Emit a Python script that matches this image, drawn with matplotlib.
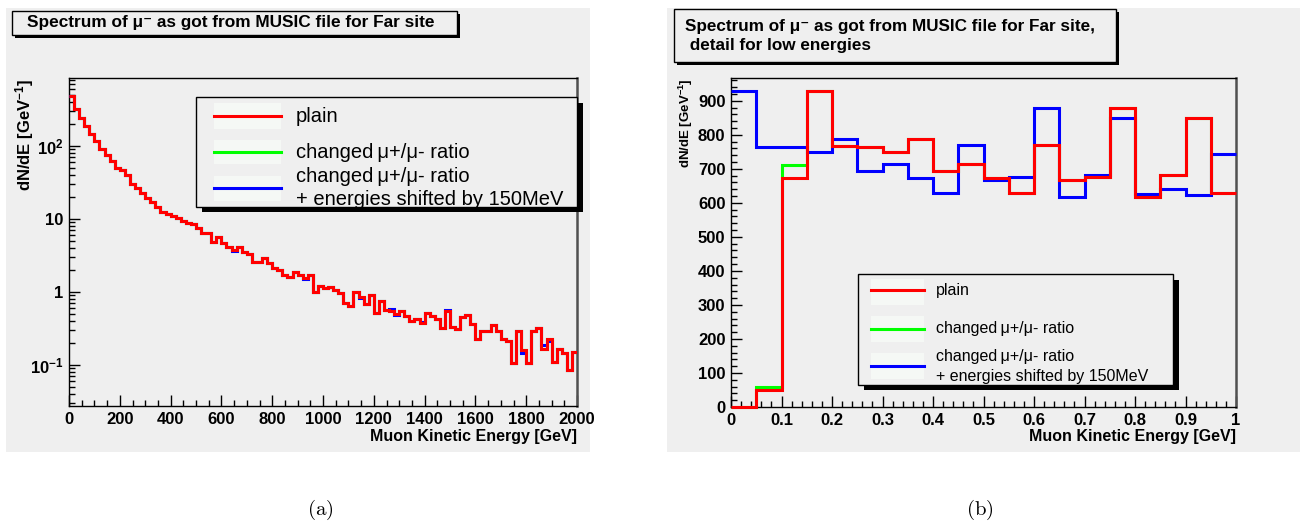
import numpy as np
import matplotlib
matplotlib.use("Agg")
import matplotlib.pyplot as plt
from matplotlib.patches import Rectangle
from matplotlib.lines import Line2D
from matplotlib.ticker import FixedLocator, MultipleLocator, LogLocator, NullFormatter

plt.rcParams.update({"font.family": ["Liberation Sans", "DejaVu Sans"],
                     "mathtext.fontset": "custom",
                     "mathtext.rm": "Liberation Sans",
                     "mathtext.bf": "Liberation Sans:bold",
                     "mathtext.it": "Liberation Sans:italic"})

# ---------- data ----------
# (a) full spectrum, 20 GeV bins 0..2000 GeV
far_bin_width = 20
plain_far = [480, 326, 243, 187, 148, 116, 92, 74.5, 61.7, 50,
             46.4, 39.6, 30.5, 26.6, 22.7, 19.4, 17.1, 14.6, 12.4, 11.7,
             11.1, 10.3, 9.3, 8.9, 8.5, 7.6, 6.4, 6.4, 4.9, 5.6,
             4.67, 4.1, 3.78, 4.1, 3.58, 3.33, 2.61, 2.61, 2.96, 2.53,
             2.12, 2.0, 1.71, 1.59, 1.86, 1.71, 1.54, 1.71, 1.01, 1.2,
             1.15, 1.18, 1.06, 0.96, 0.71, 0.65, 1.01, 0.85, 0.68, 0.90,
             0.51, 0.76, 0.57, 0.555, 0.50, 0.55, 0.47, 0.40, 0.43, 0.372,
             0.51, 0.47, 0.42, 0.32, 0.554, 0.33, 0.31, 0.45, 0.49, 0.36,
             0.226, 0.29, 0.29, 0.35, 0.29, 0.226, 0.213, 0.107, 0.29, 0.16,
             0.107, 0.29, 0.317, 0.165, 0.226, 0.11, 0.168, 0.144, 0.085, 0.149]
shifted_far = [480, 326, 243, 187, 148, 116, 92, 74.5, 61.7, 50,
               46.4, 39.6, 30.5, 26.6, 22.7, 19.4, 17.1, 14.6, 12.4, 11.7,
               11.1, 10.3, 9.3, 8.9, 8.5, 7.6, 6.4, 6.4, 4.8, 5.6,
               4.67, 4.1, 3.7, 4.1, 3.5, 3.33, 2.61, 2.61, 2.96, 2.53,
               2.12, 2.0, 1.71, 1.59, 1.86, 1.71, 1.5, 1.71, 1.01, 1.2,
               1.15, 1.18, 1.06, 0.98, 0.70, 0.65, 1.01, 0.82, 0.68, 0.90,
               0.51, 0.76, 0.57, 0.585, 0.483, 0.55, 0.47, 0.40, 0.43, 0.39,
               0.51, 0.47, 0.42, 0.32, 0.57, 0.335, 0.31, 0.45, 0.49, 0.36,
               0.226, 0.29, 0.29, 0.35, 0.29, 0.226, 0.213, 0.107, 0.295, 0.145,
               0.107, 0.29, 0.317, 0.187, 0.214, 0.11, 0.168, 0.144, 0.085, 0.149]
changed_far = list(plain_far)  # green sits exactly under the red here

# (b) low-energy detail, 0.05 GeV bins 0..1 GeV
low_bin_width = 0.05
plain_low = [0, 50, 672, 928, 767, 765, 750, 788, 695, 713,
             672, 628, 770, 668, 677, 880, 617, 683, 848, 628]
changed_low = [0, 58, 710, 928, 767, 765, 750, 788, 695, 713,
               672, 628, 770, 668, 677, 880, 617, 683, 848, 628]
shifted_low = [928, 765, 765, 750, 787, 695, 713, 673, 628, 770,
               668, 677, 880, 617, 683, 848, 627, 640, 622, 743]

far_xticks = [0, 200, 400, 600, 800, 1000, 1200, 1400, 1600, 1800, 2000]
far_yticks = [0.1, 1, 10, 100]
far_ylabels = [r"$\mathbf{10^{-1}}$", "1", "10", r"$\mathbf{10^{2}}$"]
low_xticks = [0, 0.1, 0.2, 0.3, 0.4, 0.5, 0.6, 0.7, 0.8, 0.9, 1]
low_xlabels = ["0", "0.1", "0.2", "0.3", "0.4", "0.5", "0.6", "0.7", "0.8", "0.9", "1"]
low_yticks = [0, 100, 200, 300, 400, 500, 600, 700, 800, 900]

entries = ["plain", "changed\u2009\u03bc+/\u03bc- ratio",
           "changed\u2009\u03bc+/\u03bc- ratio\n+ energies shifted by 150MeV"]
colors = ["#ff0000", "#00ff00", "#0000ff"]

W, H = 1307, 523
BG = "#efefef"


def fbox(x0, y0, x1, y1):
    return [x0 / W, 1 - y1 / H, (x1 - x0) / W, (y1 - y0) / H]


def rect(x0, y0, x1, y1, **kw):
    fig.add_artist(Rectangle((x0 / W, 1 - y1 / H), (x1 - x0) / W, (y1 - y0) / H,
                             transform=fig.transFigure, **kw))


def ftext(x, y, s, **kw):
    fig.text(x / W, 1 - y / H, s, **kw)


def title_box(x0, y0, x1, y1, lines, tx, ty, size):
    rect(x0 + 3, y0 + 3, x1 + 3, y1 + 3, facecolor="black", edgecolor="none", zorder=5)
    rect(x0, y0, x1, y1, facecolor=BG, edgecolor="black", lw=1, zorder=6)
    ftext(tx, ty, lines, ha="left", va="center", fontsize=size, fontweight="bold",
          zorder=7, linespacing=1.3)


def legend_box(x0, y0, x1, y1, line_x, line_y, bg_y, text_x, text_y, size):
    rect(x0 + 6, y0 + 6, x1 + 6, y1 + 5, facecolor="black", edgecolor="none", zorder=5)
    rect(x0, y0, x1, y1, facecolor=BG, edgecolor="black", lw=1, zorder=6)
    for ly, (b0, b1), c in zip(line_y, bg_y, colors):
        rect(line_x[0], b0, line_x[1], b1, facecolor="#f5f8f5", edgecolor="none", zorder=7)
        fig.add_artist(Line2D([line_x[0] / W, line_x[1] / W], [1 - ly / H, 1 - ly / H],
                              transform=fig.transFigure, color=c, lw=2.2, zorder=8))
    for s, ty in zip([entries[0], entries[1], entries[2].split("\n")[0], entries[2].split("\n")[1]],
                     text_y):
        ftext(text_x, ty, s, ha="left", va="center", fontsize=size, zorder=8)


def style_axes(ax):
    ax.set_facecolor(BG)
    for s in ["left", "bottom", "top"]:
        ax.spines[s].set_color("black")
        ax.spines[s].set_linewidth(1.0)
    ax.spines["right"].set_color("#505050")
    ax.spines["right"].set_linewidth(1.8)
    ax.tick_params(which="both", direction="in", top=False, right=False, width=1.0,
                   labelsize=12, pad=4)
    ax.tick_params(which="major", length=8)
    ax.tick_params(which="minor", length=4)
    for lab in ax.get_xticklabels() + ax.get_yticklabels():
        lab.set_fontweight("bold")


fig = plt.figure(figsize=(W / 100, H / 100), dpi=100)
rect(6, 8, 590, 452, facecolor=BG, edgecolor="none", zorder=0)
rect(667, 8, 1300, 452, facecolor=BG, edgecolor="none", zorder=0)

# ---------- (a) ----------
axL = fig.add_axes(fbox(69, 78, 577, 406))
edges_far = np.arange(len(plain_far) + 1) * far_bin_width
for vals, c, z in [(changed_far, colors[1], 2), (shifted_far, colors[2], 3), (plain_far, colors[0], 4)]:
    axL.stairs(vals, edges_far, baseline=None, color=c, lw=2.2, zorder=z)
axL.set_yscale("log")
axL.set_xlim(0, 2000)
axL.set_ylim(0.0274, 855)
axL.xaxis.set_major_locator(FixedLocator(far_xticks))
axL.xaxis.set_minor_locator(MultipleLocator(50))
axL.set_xticklabels([str(v) for v in far_xticks])
axL.yaxis.set_major_locator(FixedLocator(far_yticks))
axL.set_yticklabels(far_ylabels)
axL.yaxis.set_minor_locator(LogLocator(base=10, subs=np.arange(2, 10)))
axL.yaxis.set_minor_formatter(NullFormatter())
style_axes(axL)

ftext(577, 437, "Muon Kinetic Energy [GeV]", ha="right", va="center",
      fontsize=11.5, fontweight="bold")
ftext(25, 79, r"dN/dE [GeV$^{\mathbf{-1}}$]", ha="center", va="top", rotation=90,
      fontsize=12, fontweight="bold")
title_box(12, 11, 457, 35, "Spectrum of \u03bc\u207b as got from MUSIC file for Far site",
          27, 23, 12.4)
legend_box(196, 97, 577, 207, (214, 281), (116, 152, 188),
           [(103, 129), (140, 164), (176, 201)], 296, (116, 152, 177, 200), 14.5)

# ---------- (b) ----------
axR = fig.add_axes(fbox(731, 78, 1236, 407))
edges_low = np.arange(len(plain_low) + 1) * low_bin_width
for vals, c, z in [(changed_low, colors[1], 2), (shifted_low, colors[2], 3), (plain_low, colors[0], 4)]:
    axR.stairs(vals, edges_low, baseline=None, color=c, lw=2.2, zorder=z, clip_on=False)
axR.set_xlim(0, 1)
axR.set_ylim(0, 967)
axR.xaxis.set_major_locator(FixedLocator(low_xticks))
axR.set_xticklabels(low_xlabels)
axR.xaxis.set_minor_locator(MultipleLocator(0.02))
axR.yaxis.set_major_locator(FixedLocator(low_yticks))
axR.set_yticklabels([str(v) for v in low_yticks])
axR.yaxis.set_minor_locator(MultipleLocator(20))
style_axes(axR)

ftext(1236, 437, "Muon Kinetic Energy [GeV]", ha="right", va="center",
      fontsize=11.5, fontweight="bold")
ftext(686, 78, r"dN/dE [GeV$^{\mathbf{-1}}$]", ha="center", va="top", rotation=90,
      fontsize=9.5, fontweight="bold")
title_box(674, 9, 1116, 62,
          "Spectrum of \u03bc\u207b as got from MUSIC file for Far site,\n detail for low energies",
          685, 36, 12.3)
legend_box(858, 274, 1173, 385, (871, 924), (290, 329, 366),
           [(279, 305), (316, 342), (353, 379)], 936, (290, 329, 356, 376), 11.5)

# captions
ftext(320, 510, r"$\mathrm{(a)}$", ha="center", va="center", fontsize=15, math_fontfamily="cm")
ftext(980, 510, r"$\mathrm{(b)}$", ha="center", va="center", fontsize=15, math_fontfamily="cm")

fig.savefig("out.png", dpi=100)
